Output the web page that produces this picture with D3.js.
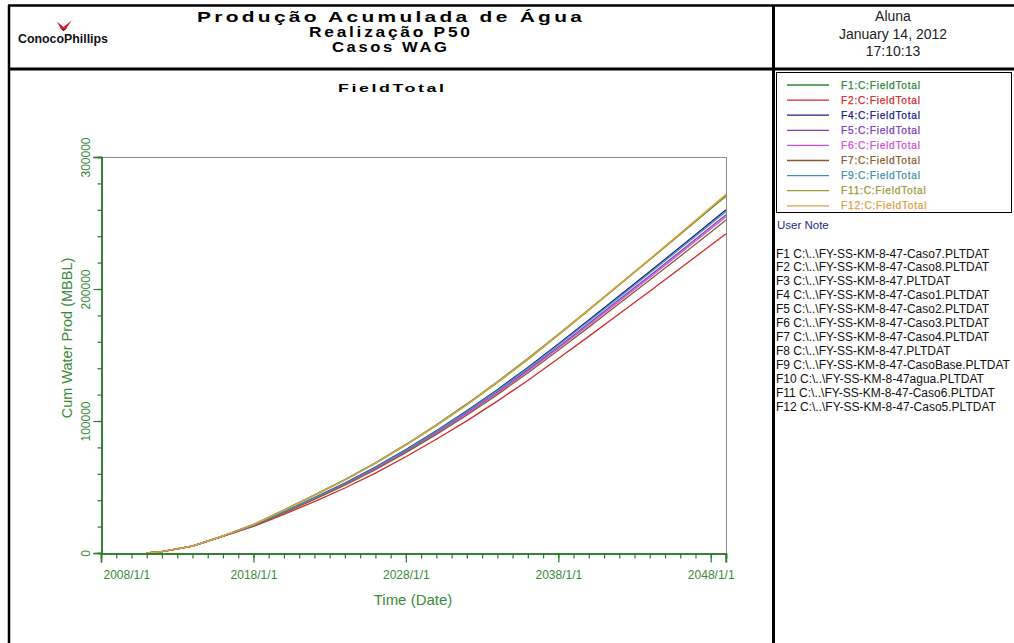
<!DOCTYPE html>
<html>
<head>
<meta charset="utf-8">
<script src="https://cdn.jsdelivr.net/npm/d3@7"></script>
<style>
  html, body { margin: 0; padding: 0; background: #fff; }
  svg { display: block; }
  text { font-family: "Liberation Sans", Arial, sans-serif; }
</style>
</head>
<body>
<svg id="chart" width="1014" height="643"></svg>
<script>
// Sample years (Jan 1st of each year)
const years = [2011, 2012, 2014, 2016, 2018, 2020, 2022, 2024, 2026, 2028, 2030,
               2032, 2034, 2036, 2038, 2040, 2042, 2044, 2046, 2048, 2049];

// Cumulative water production per case (MBBL)
const f1  = [0, 1000, 5320, 13050, 21700, 32650, 44000, 55550, 68300, 82250, 97200, 112950, 129750, 147300, 165800, 184500, 203400, 222300, 241400, 260700, 270200];
const f2  = [0, 980, 5200, 12550, 20090, 29250, 38980, 49220, 60520, 72890, 86150, 100130, 115080, 130740, 147300, 164120, 181200, 198290, 215650, 233090, 241900];
const f4  = [0, 1000, 5270, 12800, 21000, 31100, 41920, 52920, 65080, 78380, 92640, 107660, 123740, 140580, 158380, 176470, 194850, 213220, 231880, 250640, 260110];
const f5  = [0, 990, 5250, 12740, 20840, 30650, 41300, 52150, 64120, 77230, 91280, 106090, 121930, 138530, 156070, 173890, 192000, 210100, 228490, 246970, 256310];
const f6  = [0, 990, 5240, 12720, 20740, 30450, 41040, 51820, 63720, 76740, 90700, 105410, 121150, 137650, 155070, 172780, 190770, 208760, 227040, 245400, 254680];
const f7  = [0, 990, 5230, 12700, 20630, 30160, 40650, 51320, 63100, 76000, 89830, 104400, 119990, 136320, 153580, 171120, 188940, 206760, 224850, 243040, 252230];
const f9  = [0, 1000, 5270, 12800, 20950, 30940, 41700, 52650, 64740, 77970, 92150, 107100, 123090, 139850, 157560, 175550, 193830, 212110, 230670, 249330, 258750];
const f11 = [0, 1000, 5300, 12990, 21560, 32400, 43670, 55130, 67800, 81650, 96510, 112160, 128910, 146460, 165000, 183850, 202990, 222130, 241570, 261110, 270980];
const f12 = [0, 1000, 5300, 13000, 21600, 32500, 43800, 55300, 68000, 81900, 96800, 112500, 129300, 146900, 165500, 184400, 203600, 222800, 242300, 261900, 271800];

const seriesNames = ["F1:C:FieldTotal", "F2:C:FieldTotal", "F4:C:FieldTotal", "F5:C:FieldTotal",
                     "F6:C:FieldTotal", "F7:C:FieldTotal", "F9:C:FieldTotal", "F11:C:FieldTotal", "F12:C:FieldTotal"];
const seriesValues = [f1, f2, f4, f5, f6, f7, f9, f11, f12];
const seriesColors = ["#2a8a3a", "#d42a2a", "#1c1c8a", "#7b3cc0", "#d34fd8", "#8a5a30", "#3f93ad", "#9a9a38", "#e3a040"];

const yTicks = [0, 100000, 200000, 300000];
const xTickYears = [2008, 2018, 2028, 2038, 2048];

const fileNotes = [
  "F1 C:\\..\\FY-SS-KM-8-47-Caso7.PLTDAT",
  "F2 C:\\..\\FY-SS-KM-8-47-Caso8.PLTDAT",
  "F3 C:\\..\\FY-SS-KM-8-47.PLTDAT",
  "F4 C:\\..\\FY-SS-KM-8-47-Caso1.PLTDAT",
  "F5 C:\\..\\FY-SS-KM-8-47-Caso2.PLTDAT",
  "F6 C:\\..\\FY-SS-KM-8-47-Caso3.PLTDAT",
  "F7 C:\\..\\FY-SS-KM-8-47-Caso4.PLTDAT",
  "F8 C:\\..\\FY-SS-KM-8-47.PLTDAT",
  "F9 C:\\..\\FY-SS-KM-8-47-CasoBase.PLTDAT",
  "F10 C:\\..\\FY-SS-KM-8-47agua.PLTDAT",
  "F11 C:\\..\\FY-SS-KM-8-47-Caso6.PLTDAT",
  "F12 C:\\..\\FY-SS-KM-8-47-Caso5.PLTDAT"
];

const titleLines = ["Produção Acumulada de Água", "Realização P50", "Casos WAG"];
const stampLines = ["Aluna", "January 14, 2012", "17:10:13"];

const svg = d3.select("#chart");
const axisGreen = "#2b7a2b";
const labelGreen = "#3a8a3a";

// Wide, letter-spaced heading text: set spacing, then stretch to the wanted width
function wideText(parent, cx, baseline, width, size, str, spacing) {
  const g = parent.append("g");
  const t = g.append("text")
    .attr("x", 0).attr("y", 0)
    .attr("font-family", "DejaVu Sans")
    .attr("font-weight", "bold")
    .attr("font-size", size)
    .attr("letter-spacing", spacing)
    .attr("fill", "#000")
    .text(str);
  const natural = t.node().getComputedTextLength() - spacing;
  const sx = width / natural;
  g.attr("transform", `translate(${cx - width / 2},${baseline}) scale(${sx},1)`);
  return g;
}

// ---------- page frame ----------
const frame = svg.append("g");
frame.append("line").attr("x1", 8).attr("x2", 1014).attr("y1", 5.5).attr("y2", 5.5).attr("stroke", "#000").attr("stroke-width", 2.5);
frame.append("line").attr("x1", 9).attr("x2", 9).attr("y1", 5).attr("y2", 643).attr("stroke", "#000").attr("stroke-width", 2.5);
frame.append("line").attr("x1", 8).attr("x2", 1014).attr("y1", 69).attr("y2", 69).attr("stroke", "#000").attr("stroke-width", 3);
frame.append("line").attr("x1", 773.5).attr("x2", 773.5).attr("y1", 5).attr("y2", 643).attr("stroke", "#000").attr("stroke-width", 3);

// ---------- logo ----------
const logo = svg.append("g");
logo.append("path")
  .attr("d", "M57,21.5 L63.5,27 L71.5,20.5 L66.5,28.5 L63.5,31 L60.5,28.5 Z")
  .attr("fill", "#d3202c");
logo.append("path")
  .attr("d", "M60.5,28.5 L63.5,31 L66.5,28.5 L63.5,29.6 Z")
  .attr("fill", "#5a0e12");
logo.append("text")
  .attr("x", 18).attr("y", 43)
  .attr("font-size", 13.5).attr("font-weight", "bold")
  .attr("textLength", 90).attr("lengthAdjust", "spacingAndGlyphs")
  .attr("fill", "#111")
  .text("ConocoPhillips");

// ---------- titles ----------
const titleSpec = [{ y: 22, w: 385 }, { y: 37, w: 161 }, { y: 52, w: 115 }];
titleLines.forEach((t, i) => {
  wideText(svg, 389.5, titleSpec[i].y, titleSpec[i].w, 14, t, 2.2);
});

stampLines.forEach((t, i) => {
  svg.append("text")
    .attr("x", 893).attr("y", 21 + i * 17.5)
    .attr("text-anchor", "middle")
    .attr("font-size", 14).attr("fill", "#222")
    .text(t);
});

// ---------- plot ----------
const x = d3.scaleTime()
  .domain([new Date(2008, 0, 1), new Date(2049, 0, 1)])
  .range([101, 726]);
const y = d3.scaleLinear().domain([0, 300000]).range([553, 157]);

wideText(svg, 391, 92, 106, 11, "FieldTotal", 1.6);

// plot frame (top / right)
svg.append("line").attr("x1", x.range()[0]).attr("x2", x.range()[1]).attr("y1", y(300000) + 0.5).attr("y2", y(300000) + 0.5)
  .attr("stroke", "#8a8a8a").attr("stroke-width", 1);
svg.append("line").attr("x1", x.range()[1] + 0.5).attr("x2", x.range()[1] + 0.5).attr("y1", y(300000)).attr("y2", y(0))
  .attr("stroke", "#8a8a8a").attr("stroke-width", 1);

// series
const line = d3.line()
  .x((d, i) => x(new Date(years[i], 0, 1)))
  .y(d => y(d));

const lines = svg.append("g").attr("fill", "none").attr("stroke-width", 1.3);
seriesValues.forEach((vals, k) => {
  lines.append("path")
    .attr("d", line(vals))
    .attr("stroke", seriesColors[k]);
});

// y axis
const yMinor = d3.range(0, 300001, 20000);
const yAxisMinor = d3.axisLeft(y).tickValues(yMinor).tickSize(4).tickFormat("");
const yAxisMajor = d3.axisLeft(y).tickValues(yTicks).tickSize(8).tickFormat(d3.format("d"));
const gyMinor = svg.append("g").attr("transform", "translate(101.5,0)").call(yAxisMinor);
const gy = svg.append("g").attr("transform", "translate(101.5,0)").call(yAxisMajor);
[gyMinor, gy].forEach(g => {
  g.select(".domain").attr("stroke", axisGreen).attr("stroke-width", 1.5);
  g.selectAll(".tick line").attr("stroke", axisGreen).attr("stroke-width", 1.2);
});
gy.selectAll(".tick text")
  .attr("fill", labelGreen).attr("font-size", 12)
  .attr("font-family", "Liberation Sans, Arial, sans-serif")
  .attr("text-anchor", "middle")
  .attr("transform", "rotate(-90)")
  .attr("dy", 0)
  .attr("x", 0).attr("y", -12);

// x axis
const xAxisMinor = d3.axisBottom(x).ticks(d3.timeYear.every(1)).tickSize(5).tickFormat("");
const xAxisMajor = d3.axisBottom(x)
  .tickValues(xTickYears.map(yr => new Date(yr, 0, 1)))
  .tickSize(9).tickFormat(d3.timeFormat("%Y/%-m/%-d"));
const gxMinor = svg.append("g").attr("transform", "translate(0,553.5)").call(xAxisMinor);
const gx = svg.append("g").attr("transform", "translate(0,553.5)").call(xAxisMajor);
[gxMinor, gx].forEach(g => {
  g.select(".domain").attr("stroke", axisGreen).attr("stroke-width", 1.5);
  g.selectAll(".tick line").attr("stroke", axisGreen).attr("stroke-width", 1.2);
});
gxMinor.append("line").attr("x1", x.range()[1]).attr("x2", x.range()[1]).attr("y1", 0).attr("y2", 9)
  .attr("stroke", axisGreen).attr("stroke-width", 1.2);
gx.selectAll(".tick text")
  .attr("fill", labelGreen).attr("font-size", 12)
  .attr("font-family", "Liberation Sans, Arial, sans-serif")
  .attr("y", 17)
  .attr("text-anchor", (d, i) => i === 0 ? "start" : "middle")
  .attr("dx", (d, i) => i === 0 ? 2 : 0);

// axis titles
svg.append("text")
  .attr("transform", "translate(72,338) rotate(-90)")
  .attr("text-anchor", "middle")
  .attr("font-size", 14.5).attr("fill", labelGreen)
  .text("Cum Water Prod (MBBL)");
svg.append("text")
  .attr("x", 413).attr("y", 605)
  .attr("text-anchor", "middle")
  .attr("font-size", 15).attr("fill", labelGreen)
  .text("Time (Date)");

// ---------- legend ----------
const legend = svg.append("g");
legend.append("rect")
  .attr("x", 776.5).attr("y", 72.5).attr("width", 235).attr("height", 140)
  .attr("fill", "none").attr("stroke", "#000").attr("stroke-width", 1);
seriesNames.forEach((name, k) => {
  const ly = 85 + k * 15.1;
  legend.append("line")
    .attr("x1", 787).attr("x2", 829).attr("y1", ly).attr("y2", ly)
    .attr("stroke", seriesColors[k]).attr("stroke-width", 1.3);
  legend.append("text")
    .attr("x", 841).attr("y", ly + 3.6)
    .attr("font-size", 10.2)
    .attr("letter-spacing", 0.75)
    .attr("stroke", seriesColors[k]).attr("stroke-width", 0.25)
    .attr("fill", seriesColors[k])
    .text(name);
});

svg.append("text")
  .attr("x", 777).attr("y", 229)
  .attr("font-size", 11.5).attr("fill", "#1e2a8c")
  .text("User Note");

fileNotes.forEach((t, i) => {
  svg.append("text")
    .attr("x", 776).attr("y", 257.5 + i * 13.95)
    .attr("font-size", 12).attr("fill", "#111")
    .text(t);
});
</script>
</body>
</html>
